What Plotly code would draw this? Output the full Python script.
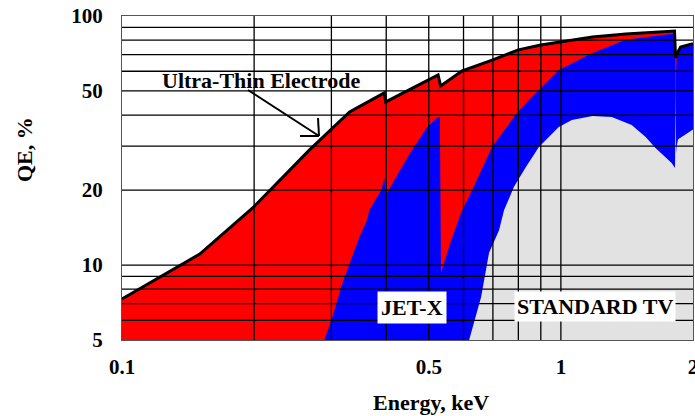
import math
import plotly.graph_objects as go

# ---------------- data ----------------
ute_energy = [0.1, 0.1504, 0.1985, 0.2675, 0.330, 0.353, 0.396, 0.399, 0.451, 0.525, 0.532,
              0.596, 0.7, 0.8, 0.9, 0.99, 1.18, 1.405, 1.76, 1.815, 1.825, 1.835, 1.874, 1.954, 2.0]
ute_qe = [7.31, 11.07, 16.95, 29.0, 41.2, 43.9, 49.1, 45.2, 50.5, 58.0, 52.4,
          60.2, 66.6, 73.1, 76.5, 78.7, 82.4, 84.7, 86.3, 87.0, 67.8, 70.0, 75.0, 76.6, 77.5]

jet_energy = [0.289, 0.300, 0.318, 0.330, 0.3475, 0.362, 0.366, 0.390, 0.396, 0.399, 0.451, 0.496,
              0.523, 0.530, 0.533, 0.560, 0.593, 0.628, 0.697, 0.794, 0.846, 0.99, 1.18, 1.405,
              1.67, 1.76, 1.822, 1.826, 1.830, 1.84, 1.874, 1.954, 2.0]
jet_qe = [5.0, 6.0, 8.47, 10.2, 12.96, 15.2, 16.6, 20.0, 22.4, 19.1, 27.7, 35.8,
          39.0, 39.3, 9.3, 12.3, 16.3, 20.0, 29.8, 40.8, 46.0, 60.7, 71.1, 80.2,
          83.2, 84.5, 84.5, 22.6, 60.0, 73.0, 74.0, 76.0, 77.0]

std_energy = [0.618, 0.658, 0.686, 0.723, 0.742, 0.782, 0.833, 0.891, 0.989, 1.059, 1.18, 1.306,
              1.45, 1.56, 1.643, 1.788, 1.82, 1.827, 1.830, 1.835, 1.85, 1.9, 2.0]
std_qe = [5.0, 7.44, 11.2, 13.8, 16.6, 20.6, 24.8, 29.8, 35.8, 38.2, 39.7, 39.3,
          36.5, 32.7, 29.5, 25.7, 24.5, 47.0, 28.0, 30.0, 32.0, 33.0, 35.0]

x_tick_vals = [0.1, 0.5, 1, 2]
x_tick_text = ["0.1", "0.5", "1", "2"]
y_tick_vals = [5, 10, 20, 50, 100]
y_tick_text = ["5", "10", "20", "50", "100"]

x_grid = [0.2, 0.3, 0.4, 0.5, 0.6, 0.7, 0.8, 0.9, 1.0]
y_grid = [6, 7, 8, 9, 10, 20, 30, 40, 50, 60, 70, 80, 90]

X_MIN, X_MAX = 0.1, 2.0
Y_MIN, Y_MAX = 5.0, 100.0

RED = "#ff0000"
BLUE = "#0000ff"
GRAY = "#e2e2e2"
FONT = "Liberation Serif"


def closed(xs, ys):
    """Close an area down to the bottom of the axis."""
    return [xs[0]] + list(xs) + [xs[-1]], [Y_MIN] + list(ys) + [Y_MIN]


fig = go.Figure()

for xs, ys, col in [(ute_energy, ute_qe, RED), (jet_energy, jet_qe, BLUE), (std_energy, std_qe, GRAY)]:
    cx, cy = closed(xs, ys)
    fig.add_trace(go.Scatter(x=cx, y=cy, mode="lines", fill="toself", fillcolor=col,
                             line=dict(width=0, color=col), hoverinfo="skip", showlegend=False))

fig.add_trace(go.Scatter(x=ute_energy, y=ute_qe, mode="lines",
                         line=dict(color="black", width=3), showlegend=False))

shapes = []
for g in x_grid:
    shapes.append(dict(type="line", xref="x", yref="paper", x0=g, x1=g, y0=0, y1=1,
                       line=dict(color="black", width=1.3), layer="above"))
for g in y_grid:
    shapes.append(dict(type="line", xref="paper", yref="y", x0=0, x1=1, y0=g, y1=g,
                       line=dict(color="black", width=1.3), layer="above"))

bold = dict(family=FONT, size=22, color="black", weight="bold")
W, H, L, B = 571.0, 324.0, 122.0, 340.0


def px(x, y):
    return (x - L) / W, (B - y) / H


def label(text, x, y, **kw):
    xp, yp = px(x, y)
    d = dict(text=text, xref="paper", yref="paper", x=xp, y=yp, xanchor="center",
             yanchor="middle", showarrow=False, font=bold)
    d.update(kw)
    return d


# pointer arrow (shaft + two arms) for the "Ultra-Thin Electrode" label
tip = (319, 136)
for start in [(248, 90), (300, 136), (318, 118)]:
    a, b = px(*start)
    c, d = px(*tip)
    shapes.append(dict(type="line", xref="paper", yref="paper", x0=a, y0=b, x1=c, y1=d,
                       line=dict(color="black", width=2), layer="above"))

annotations = [
    label("Ultra-Thin Electrode", 261, 80),
    label("JET-X", 411.5, 307, bgcolor="white", borderpad=3),
    label("STANDARD TV", 594.5, 306, bgcolor="white", borderpad=2),
    label("QE, %", 25, 150, textangle=-90),
    label("Energy, keV", 431, 402),
]

fig.update_layout(
    width=695, height=416,
    margin=dict(l=122, r=2, t=16, b=76, autoexpand=False),
    paper_bgcolor="white", plot_bgcolor="white",
    shapes=shapes, annotations=annotations,
    xaxis=dict(type="log", range=[math.log10(X_MIN), math.log10(X_MAX)], automargin=False,
               tickvals=x_tick_vals, ticktext=x_tick_text, showgrid=False, zeroline=False,
               showline=True, mirror=True, linecolor="#555", linewidth=1, ticks="",
               ticklabelstandoff=8, ticklabeloverflow="allow",
               tickfont=dict(family=FONT, size=21, color="black", weight="bold")),
    yaxis=dict(type="log", range=[math.log10(Y_MIN), math.log10(Y_MAX)], automargin=False,
               tickvals=y_tick_vals, ticktext=y_tick_text, showgrid=False, zeroline=False,
               showline=True, mirror=True, linecolor="#555", linewidth=1, ticks="",
               ticklabelstandoff=14,
               tickfont=dict(family=FONT, size=21, color="black", weight="bold")),
)

fig.write_html("out.html", config={"displayModeBar": False},
               post_script="document.body.style.margin='0';document.body.style.overflow='hidden';")
